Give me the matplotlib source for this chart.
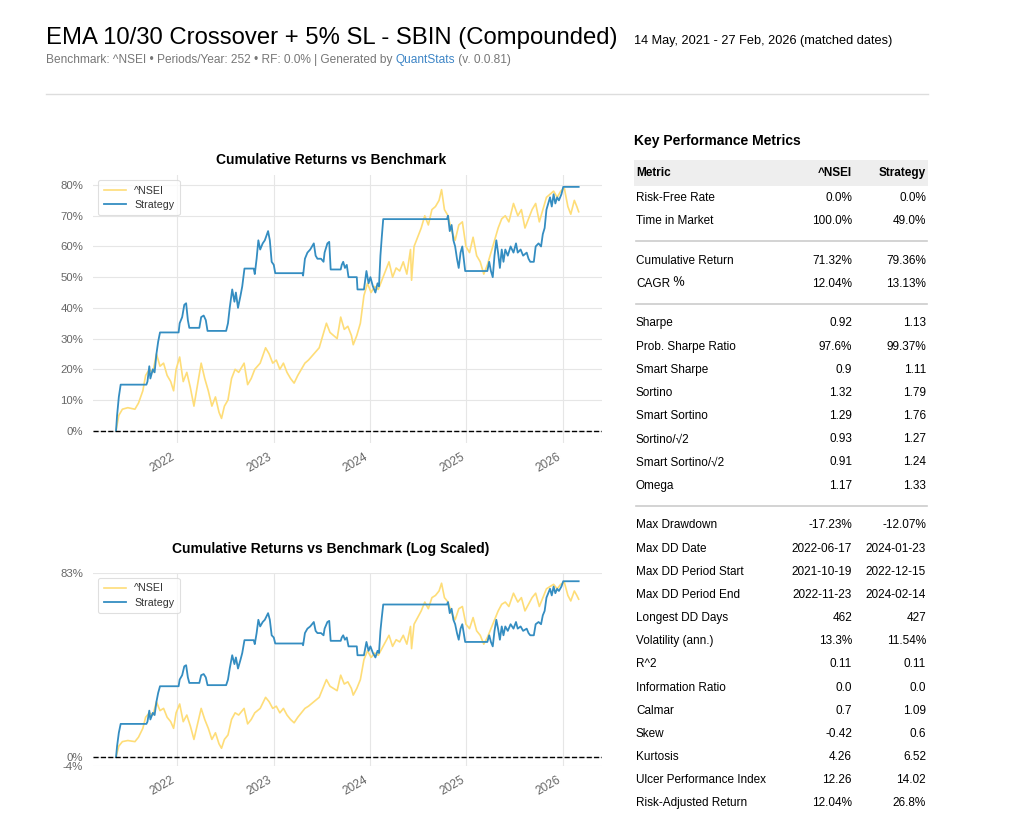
import numpy as np
import pandas as pd
import matplotlib
matplotlib.use("Agg")
from matplotlib import pyplot as plt
from matplotlib.patches import Rectangle
from matplotlib.lines import Line2D
import matplotlib.dates as mdates
from matplotlib.ticker import FuncFormatter

plt.rcParams['font.family'] = ['Liberation Sans', 'DejaVu Sans']

# cumulative returns (%), dates as decimal years
bench_t = [2021.366, 2021.395, 2021.432, 2021.488, 2021.562, 2021.599, 2021.644, 2021.673,
           2021.711, 2021.748, 2021.785, 2021.822, 2021.859, 2021.896, 2021.933, 2021.963,
           2021.989, 2022.026, 2022.063, 2022.100, 2022.137, 2022.174, 2022.212, 2022.249,
           2022.286, 2022.323, 2022.360, 2022.397, 2022.434, 2022.460, 2022.490, 2022.527,
           2022.564, 2022.601, 2022.638, 2022.694, 2022.731, 2022.768, 2022.805, 2022.861,
           2022.917, 2022.954, 2022.991, 2023.028, 2023.065, 2023.102, 2023.139, 2023.176,
           2023.213, 2023.251, 2023.288, 2023.325, 2023.362, 2023.418, 2023.473, 2023.510,
           2023.548, 2023.585, 2023.622, 2023.659, 2023.696, 2023.733, 2023.770, 2023.807,
           2023.826, 2023.863, 2023.900, 2023.937, 2023.974, 2024.011, 2024.049, 2024.086,
           2024.123, 2024.160, 2024.197, 2024.234, 2024.271, 2024.308, 2024.345, 2024.382,
           2024.420, 2024.431, 2024.457, 2024.494, 2024.531, 2024.568, 2024.605, 2024.642,
           2024.679, 2024.716, 2024.742, 2024.772, 2024.809, 2024.846, 2024.883, 2024.921,
           2024.958, 2024.995, 2025.032, 2025.069, 2025.106, 2025.143, 2025.180, 2025.217,
           2025.255, 2025.292, 2025.329, 2025.366, 2025.403, 2025.440, 2025.488, 2025.533,
           2025.570, 2025.607, 2025.644, 2025.681, 2025.718, 2025.756, 2025.793, 2025.830,
           2025.867, 2025.904, 2025.941, 2025.978, 2026.015, 2026.052, 2026.082, 2026.119,
           2026.145, 2026.164]
bench_v = [0, 5, 7, 7.5, 7, 9, 13, 18,
           20, 19, 25, 21, 22, 18, 16, 13,
           20, 24, 16, 19, 14, 8, 15, 22,
           17, 13, 8, 11, 6, 4, 8, 10,
           17, 20, 19, 22, 15, 17, 20, 22,
           27, 25, 22, 23, 20, 22, 19, 17,
           15.5, 18, 20, 22, 23, 25, 27, 31,
           35, 32, 31, 30, 37, 33, 34, 31,
           28, 31, 35, 44, 48, 45, 47, 46,
           49, 52, 55, 50, 53, 52, 55, 51,
           59, 49, 60, 63, 66, 70, 67, 72,
           73, 75, 78.5, 72, 70, 65, 62, 67,
           68, 60, 58, 63, 57, 55, 51, 54,
           58, 62, 66, 69, 70, 68, 74, 70,
           72, 66, 69, 72, 74, 68, 72, 76,
           77, 78, 76, 78, 79, 73, 70.5, 75,
           73, 71.3]

strat_t = [2021.366, 2021.377, 2021.395, 2021.414, 2021.681, 2021.692, 2021.711, 2021.722,
           2021.748, 2021.766, 2021.785, 2021.803, 2021.822, 2022.015, 2022.026, 2022.052,
           2022.074, 2022.093, 2022.111, 2022.126, 2022.230, 2022.249, 2022.275, 2022.297,
           2022.315, 2022.508, 2022.527, 2022.545, 2022.571, 2022.594, 2022.609, 2022.631,
           2022.657, 2022.675, 2022.698, 2022.794, 2022.805, 2022.824, 2022.842, 2022.861,
           2022.887, 2022.909, 2022.943, 2022.961, 2022.980, 2023.002, 2023.017, 2023.299,
           2023.306, 2023.325, 2023.351, 2023.380, 2023.417, 2023.436, 2023.455, 2023.492,
           2023.518, 2023.529, 2023.558, 2023.577, 2023.592, 2023.696, 2023.707, 2023.722,
           2023.740, 2023.759, 2023.777, 2023.863, 2023.870, 2023.937, 2023.963, 2023.985,
           2024.004, 2024.030, 2024.056, 2024.078, 2024.093, 2024.108, 2024.122, 2024.137,
           2024.798, 2024.809, 2024.827, 2024.846, 2024.865, 2024.883, 2024.902, 2024.920,
           2024.939, 2024.957, 2024.976, 2024.987, 2025.217, 2025.236, 2025.254, 2025.273,
           2025.291, 2025.310, 2025.328, 2025.347, 2025.366, 2025.384, 2025.403, 2025.429,
           2025.458, 2025.488, 2025.514, 2025.532, 2025.562, 2025.588, 2025.625, 2025.644,
           2025.662, 2025.699, 2025.718, 2025.748, 2025.774, 2025.792, 2025.811, 2025.830,
           2025.848, 2025.867, 2025.885, 2025.904, 2025.922, 2025.941, 2025.959, 2025.985,
           2026.004, 2026.164]
strat_v = [0, 5, 11, 15, 15, 16, 21, 17,
           20, 19, 25, 29, 32, 32, 35, 37,
           41, 41.5, 36, 33.5, 33.5, 37, 37.5, 36,
           32.5, 32.5, 35, 40, 46, 42, 45, 40,
           44, 47, 52.8, 52.8, 51, 56, 62, 59,
           61, 62, 65, 62, 55, 54, 51.3, 51.3,
           50.5, 56, 58, 59, 61, 57, 56, 56,
           55, 58, 61, 61.5, 52.5, 52.5, 54, 55,
           53, 54, 50, 50, 46, 46, 52, 48,
           50, 47, 45, 48, 47, 57, 63, 68.9,
           68.9, 70, 65, 67, 62, 60, 56, 53,
           58, 60, 55, 52, 52, 55, 52, 50,
           57, 62, 58, 53, 59, 55, 59, 57,
           60, 58, 61, 58, 59, 57, 58, 56,
           55, 55, 60, 61, 60, 64, 66, 72,
           74, 76, 73, 77, 74, 76, 75, 77,
           79.4, 79.4]

year_ticks = [2022, 2023, 2024, 2025, 2026]
log_ticks = [-4, 0, 83]

metric_names = ["Risk-Free Rate", "Time in Market",
                "Cumulative Return", "CAGR\uFE6A",
                "Sharpe", "Prob. Sharpe Ratio", "Smart Sharpe", "Sortino", "Smart Sortino",
                "Sortino/\u221a2", "Smart Sortino/\u221a2", "Omega",
                "Max Drawdown", "Max DD Date", "Max DD Period Start", "Max DD Period End",
                "Longest DD Days", "Volatility (ann.)", "R^2", "Information Ratio", "Calmar",
                "Skew", "Kurtosis", "Ulcer Performance Index", "Risk-Adjusted Return"]
nsei_vals = ["0.0%", "100.0%",
             "71.32%", "12.04%",
             "0.92", "97.6%", "0.9", "1.32", "1.29", "0.93", "0.91", "1.17",
             "-17.23%", "2022-06-17", "2021-10-19", "2022-11-23", "462", "13.3%", "0.11",
             "0.0", "0.7", "-0.42", "4.26", "12.26", "12.04%"]
strat_vals = ["0.0%", "49.0%",
              "79.36%", "13.13%",
              "1.13", "99.37%", "1.11", "1.79", "1.76", "1.27", "1.24", "1.33",
              "-12.07%", "2024-01-23", "2022-12-15", "2024-02-14", "427", "11.54%", "0.11",
              "0.0", "1.09", "0.6", "6.52", "14.02", "26.8%"]
section_starts = [2, 4, 12]


def to_dates(yrs):
    yrs = np.asarray(yrs, dtype=float)
    return pd.Timestamp("2021-01-01") + pd.to_timedelta((yrs - 2021) * 365.25, unit="D")


W, H = 1024, 815
fig = plt.figure(figsize=(W / 100, H / 100), dpi=100)
fig.patch.set_facecolor("white")


def fx(x):
    return x / W


def fy(y):
    return 1 - y / H


bench_d = to_dates(bench_t)
strat_d = to_dates(strat_t)
tick_d = to_dates(year_ticks)

left, right = 92.9, 601.8
ax1 = fig.add_axes([fx(left), fy(442.9), (right - left) / W, (442.9 - 174.9) / H])
ax2 = fig.add_axes([fx(left), fy(766), (right - left) / W, (766 - 572.6) / H])

for ax in (ax1, ax2):
    ax.plot(bench_d, bench_v, color="#fedd78", lw=1.2, label="^NSEI")
    ax.plot(strat_d, strat_v, color="#348dc1", lw=1.3, label="Strategy")
    ax.axhline(0, ls="--", lw=1, color="black", zorder=2)
    for s in ax.spines.values():
        s.set_visible(False)
    ax.grid(True, color="#e6e6e6", lw=0.8)
    ax.set_axisbelow(True)
    ax.set_xticks(tick_d)
    ax.xaxis.set_major_formatter(mdates.DateFormatter("%Y"))
    ax.tick_params(length=0, labelsize=8.2, colors="#666666")
    ax.tick_params(axis="y", pad=7)
    ax.tick_params(axis="x", pad=6, labelsize=8.6)
    for lab in ax.get_xticklabels():
        lab.set_rotation(30)
        lab.set_ha("right")
    ax.yaxis.set_major_formatter(FuncFormatter(lambda v, p: "%d%%" % round(v)))
    leg = ax.legend(loc="upper left", fontsize=7.7, frameon=True, fancybox=True,
                    handlelength=2.05, handletextpad=0.8, borderpad=0.5, labelspacing=0.4)
    leg.get_frame().set_edgecolor("#d8d8d8")
    leg.get_frame().set_linewidth(0.8)
    for t in leg.get_texts():
        t.set_color("#333333")

ax1.set_yticks(np.arange(0, 81, 10))
ax1.set_ylim(-3.97, 83.3)
ax2.set_yscale("symlog", linthresh=200)
ax2.set_ylim(-4, 83.3)
ax2.set_yticks(log_ticks)
ax2.yaxis.set_major_formatter(FuncFormatter(lambda v, p: "%d%%" % round(v)))
ax2.yaxis.set_minor_locator(plt.NullLocator())

fig.text(fx(331), fy(160), "Cumulative Returns vs Benchmark", ha="center", va="center",
         fontsize=10, fontweight="bold", color="black")
fig.text(fx(331), fy(549), "Cumulative Returns vs Benchmark (Log Scaled)", ha="center",
         va="center", fontsize=10, fontweight="bold", color="black")

# header
fig.text(fx(46), fy(38), "EMA 10/30 Crossover + 5% SL - SBIN (Compounded)", ha="left",
         va="center", fontsize=17.2, color="black")
fig.text(fx(634), fy(41), "14 May, 2021 - 27 Feb, 2026 (matched dates)", ha="left",
         va="center", fontsize=9.2, color="black")

renderer = fig.canvas.get_renderer()
x0 = 46
for piece, col in [("Benchmark: ^NSEI \u2022 Periods/Year: 252 \u2022 RF: 0.0% | Generated by ", "#777777"),
                   ("QuantStats", "#3d85c6"), (" (v. 0.0.81)", "#777777")]:
    t = fig.text(fx(x0), fy(60), piece, ha="left", va="center", fontsize=8.6, color=col)
    x0 += t.get_window_extent(renderer).width

fig.add_artist(Line2D([fx(46), fx(928)], [fy(94), fy(94)], color="#dddddd", lw=1))

# metrics table
fig.text(fx(634), fy(141), "Key Performance Metrics", ha="left", va="center",
         fontsize=10, fontweight="bold", color="black")
fig.add_artist(Rectangle((fx(634), fy(186)), fx(928) - fx(634), (186 - 160) / H,
                         transform=fig.transFigure, facecolor="#eeeeee", edgecolor="none"))
for txt, x, ha in [("Metric", 636, "left"), ("^NSEI", 852, "right"), ("Strategy", 926, "right")]:
    fig.text(fx(x), fy(173), txt, ha=ha, va="center", fontsize=8.5, fontweight="bold",
             color="black")

cjk_font = ['Noto Sans CJK SC', 'DejaVu Sans']
nsep = 0
for i, name in enumerate(metric_names):
    if i in section_starts:
        nsep += 1
        ysep = 197.7 + 23.17 * i + 16.53 * nsep - 19.8
        fig.add_artist(Line2D([fx(636), fx(927)], [fy(ysep), fy(ysep)], color="#cccccc", lw=1.2))
    y = 197.7 + 23.17 * i + 16.53 * nsep
    if "\uFE6A" in name:
        # small percent sign: only the CJK family has it, drawn larger to match
        head = name.replace("\uFE6A", "")
        t = fig.text(fx(636), fy(y), head, ha="left", va="center", fontsize=8.5, color="black")
        wpx = t.get_window_extent(renderer).width
        fig.text(fx(636 + wpx + 0.5), fy(y - 2.6), "\uFE6A", ha="left", va="center",
                 fontsize=11.5, color="black", family=cjk_font)
    else:
        fig.text(fx(636), fy(y), name, ha="left", va="center", fontsize=8.5, color="black")
    fig.text(fx(852), fy(y), nsei_vals[i], ha="right", va="center", fontsize=8.5, color="black")
    fig.text(fx(926), fy(y), strat_vals[i], ha="right", va="center", fontsize=8.5, color="black")

fig.savefig("out.png", dpi=100, facecolor="white")
